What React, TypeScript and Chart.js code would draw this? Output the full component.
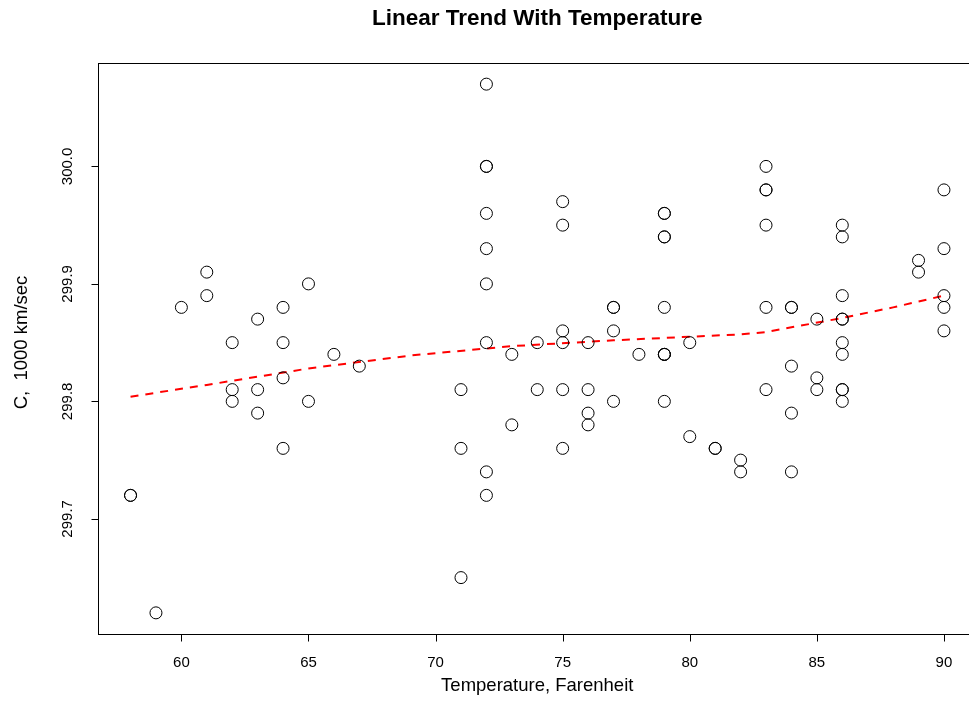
import React, { useEffect, useRef } from "react";
import { Chart, registerables } from "chart.js";

Chart.register(...registerables);

// ---- data ----
const temperatureF: number[] = [
  58, 58, 59, 60, 61, 61, 62, 62, 62, 63, 63, 63, 64, 64, 64, 64, 65, 65, 66, 67,
  71, 71, 71,
  72, 72, 72, 72, 72, 72, 72, 72, 72,
  73, 73, 74, 74,
  75, 75, 75, 75, 75, 75,
  76, 76, 76, 76,
  77, 77, 77, 77,
  78,
  79, 79, 79, 79, 79, 79, 79, 79, 79,
  80, 80, 81, 81, 82, 82,
  83, 83, 83, 83, 83, 83,
  84, 84, 84, 84, 84,
  85, 85, 85,
  86, 86, 86, 86, 86, 86, 86, 86, 86, 86,
  89, 89,
  90, 90, 90, 90, 90,
];

const speedC: number[] = [
  299.72, 299.72, 299.62, 299.88, 299.91, 299.89, 299.85, 299.81, 299.80, 299.87, 299.81, 299.79,
  299.88, 299.85, 299.82, 299.76, 299.90, 299.80, 299.84, 299.83,
  299.81, 299.76, 299.65,
  300.07, 300.0, 300.0, 299.96, 299.93, 299.90, 299.85, 299.74, 299.72,
  299.84, 299.78, 299.85, 299.81,
  299.97, 299.95, 299.86, 299.85, 299.81, 299.76,
  299.85, 299.81, 299.79, 299.78,
  299.88, 299.88, 299.86, 299.80,
  299.84,
  299.96, 299.96, 299.94, 299.94, 299.88, 299.84, 299.84, 299.84, 299.80,
  299.85, 299.77, 299.76, 299.76, 299.75, 299.74,
  300.0, 299.98, 299.98, 299.95, 299.88, 299.81,
  299.88, 299.88, 299.83, 299.79, 299.74,
  299.87, 299.82, 299.81,
  299.95, 299.94, 299.89, 299.87, 299.87, 299.85, 299.84, 299.81, 299.81, 299.80,
  299.92, 299.91,
  299.98, 299.93, 299.89, 299.88, 299.86,
];

const trendTemps: number[] = [58, 61, 65, 69, 73, 77, 80, 82, 83, 84, 86, 88, 90];
const trendValues: number[] = [
  299.804, 299.814, 299.828, 299.839, 299.847, 299.852, 299.855, 299.857, 299.859, 299.863,
  299.871, 299.88, 299.89,
];

const xTicks: number[] = [60, 65, 70, 75, 80, 85, 90];
const yTicks: number[] = [299.7, 299.8, 299.9, 300.0];
const yTickLabels: string[] = ["299.7", "299.8", "299.9", "300.0"];

const chartTitle = "Linear Trend With Temperature";
const xTitle = "Temperature, Farenheit";
const yTitle = "C,  1000 km/sec";

const FONT = '"Liberation Sans", Arial, Helvetica, sans-serif';

export default function App() {
  const ref = useRef<HTMLCanvasElement | null>(null);

  useEffect(() => {
    const canvas = ref.current;
    if (!canvas) return;

    const W = 1000;
    const H = 723;
    const LEFT = 98;
    const RIGHT = 976.5;
    const TOP = 63;
    const BOTTOM = 634;

    const rAxes = {
      id: "rAxes",
      afterDraw(chart: any) {
        const ctx = chart.ctx as CanvasRenderingContext2D;
        const area = chart.chartArea;
        const xs = chart.scales.x;
        const ys = chart.scales.y;
        ctx.save();
        ctx.strokeStyle = "#000";
        ctx.lineWidth = 1;
        // box
        ctx.strokeRect(Math.round(area.left) + 0.5, Math.round(area.top) + 0.5,
          Math.round(area.right - area.left), Math.round(area.bottom - area.top));
        // x ticks
        ctx.fillStyle = "#000";
        ctx.font = `15px ${FONT}`;
        ctx.textAlign = "center";
        ctx.textBaseline = "middle";
        const by = Math.round(area.bottom) + 0.5;
        ctx.beginPath();
        for (const t of xTicks) {
          const px = Math.round(xs.getPixelForValue(t)) + 0.5;
          ctx.moveTo(px, by);
          ctx.lineTo(px, by + 7);
        }
        ctx.stroke();
        for (const t of xTicks) {
          const px = xs.getPixelForValue(t);
          ctx.fillText(String(t), px, 663);
        }
        // y ticks
        const lx = Math.round(area.left) + 0.5;
        ctx.beginPath();
        for (const t of yTicks) {
          const py = Math.round(ys.getPixelForValue(t)) + 0.5;
          ctx.moveTo(lx, py);
          ctx.lineTo(lx - 7, py);
        }
        ctx.stroke();
        yTicks.forEach((t, i) => {
          const py = ys.getPixelForValue(t);
          ctx.save();
          ctx.translate(68, py);
          ctx.rotate(-Math.PI / 2);
          ctx.fillText(yTickLabels[i], 0, 0);
          ctx.restore();
        });
        // axis titles
        const cx = (area.left + area.right) / 2;
        const cy = (area.top + area.bottom) / 2;
        ctx.font = `18.5px ${FONT}`;
        ctx.fillText(xTitle, cx, 686);
        ctx.save();
        ctx.translate(22, cy - 6);
        ctx.rotate(-Math.PI / 2);
        ctx.fillText(yTitle, 0, 0);
        ctx.restore();
        // main title
        ctx.font = `bold 22.5px ${FONT}`;
        ctx.fillText(chartTitle, cx, 19);
        ctx.restore();
      },
    };

    const scatterData = temperatureF.map((t, i) => ({ x: t, y: speedC[i] }));
    const trendData = trendTemps.map((t, i) => ({ x: t, y: trendValues[i] }));

    const chart = new Chart(canvas, {
      type: "scatter",
      data: {
        datasets: [
          {
            type: "scatter",
            data: scatterData,
            pointStyle: "circle",
            pointRadius: 6,
            pointHoverRadius: 6,
            borderWidth: 1,
            borderColor: "#000",
            backgroundColor: "rgba(0,0,0,0)",
          } as any,
          {
            type: "line",
            data: trendData,
            borderColor: "#ff0000",
            borderWidth: 2,
            borderDash: [8, 7],
            pointRadius: 0,
            fill: false,
            tension: 0,
          } as any,
        ],
      },
      options: {
        responsive: false,
        animation: false,
        devicePixelRatio: 1,
        layout: { padding: { left: 0, top: TOP, right: W - RIGHT, bottom: 0 } },
        plugins: {
          legend: { display: false },
          title: { display: false },
          tooltip: { enabled: false },
        },
        events: [],
        scales: {
          x: {
            type: "linear",
            min: 56.72,
            max: 91.28,
            grid: { display: false },
            border: { display: false },
            ticks: { display: false },
            afterFit(scale: any) {
              scale.height = H - BOTTOM;
            },
          },
          y: {
            type: "linear",
            min: 299.602,
            max: 300.088,
            grid: { display: false },
            border: { display: false },
            ticks: { display: false },
            afterFit(scale: any) {
              scale.width = LEFT;
            },
          },
        },
      },
      plugins: [rAxes],
    } as any);

    return () => chart.destroy();
  }, []);

  return (
    <div
      style={{
        position: "fixed",
        left: 0,
        top: 0,
        width: 969,
        height: 723,
        overflow: "hidden",
        background: "#fff",
      }}
    >
      <canvas ref={ref} width={1000} height={723} style={{ width: 1000, height: 723, display: "block" }} />
    </div>
  );
}
